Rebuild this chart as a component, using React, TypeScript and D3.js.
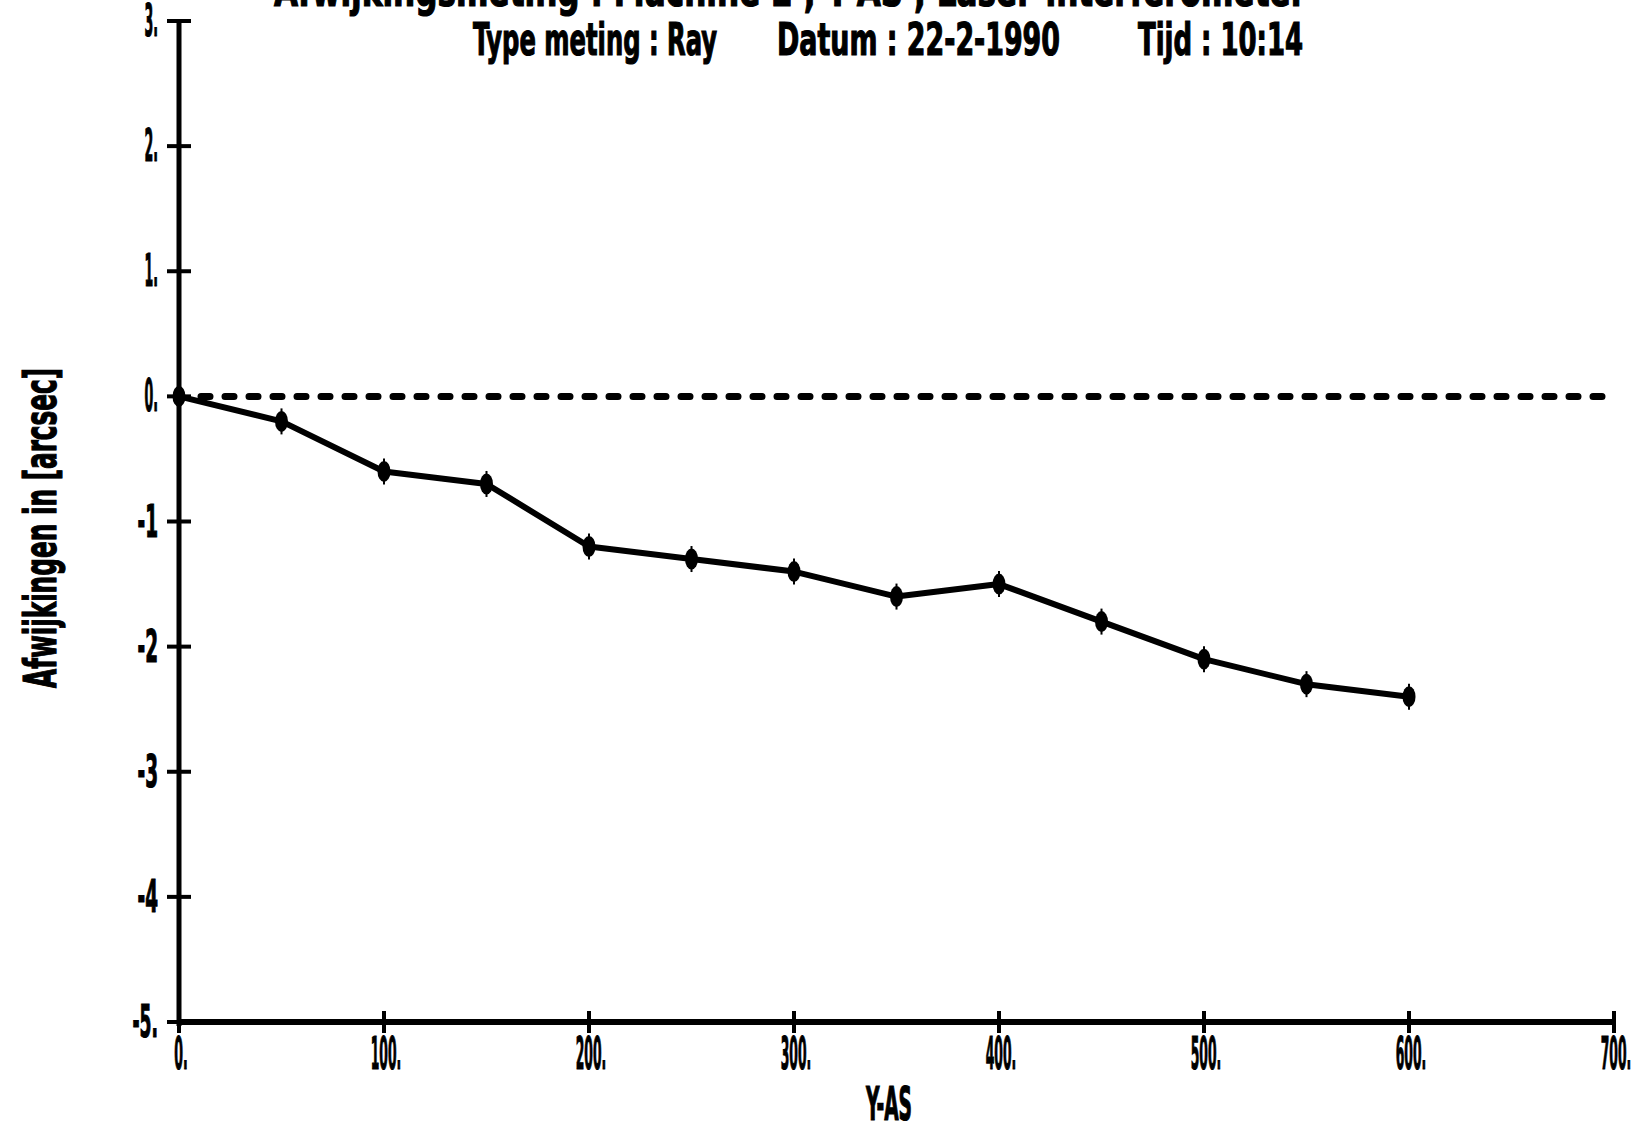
import React from "react";
import * as d3 from "d3";

// Measured angular deviation along the Y axis
const positions = [0, 50, 100, 150, 200, 250, 300, 350, 400, 450, 500, 550, 600];
const deviations = [0, -0.2, -0.6, -0.7, -1.2, -1.3, -1.4, -1.6, -1.5, -1.8, -2.1, -2.3, -2.4];

const xTicks = [0, 100, 200, 300, 400, 500, 600, 700];
const xTickLabels = ["0.", "100.", "200.", "300.", "400.", "500.", "600.", "700."];
const yTicks = [3, 2, 1, 0, -1, -2, -3, -4, -5];
const yTickLabels = ["3.", "2.", "1.", "0.", "-1", "-2", "-3", "-4", "-5."];

const titleTop = "Afwijkingsmeting : Machine 2 , Y-AS , Laser-interferometer";
const titleParts = ["Type meting : Ray", "Datum : 22-2-1990", "Tijd : 10:14"];
const xLabel = "Y-AS";
const yLabel = "Afwijkingen in [arcsec]";

const W = 1652;
const H = 1130;
const FONT = "'Liberation Sans Narrow', 'DejaVu Sans Condensed', 'Liberation Sans', sans-serif";

// width of a tick label in the narrow plotter lettering
const labelWidth = (s: string) =>
  Array.from(s).reduce((w, c) => w + (c === "." ? 5 : c === "-" ? 12 : 8.5), 0);

export default function App() {
  const x = d3.scaleLinear().domain([0, 700]).range([179, 1614]);
  const y = d3.scaleLinear().domain([-5, 3]).range([1022, 21]);
  const pts = positions.map((p, i) => [p, deviations[i]] as [number, number]);
  const line = d3
    .line<[number, number]>()
    .x((d) => x(d[0]))
    .y((d) => y(d[1]));

  return (
    <svg
      width={W}
      height={H}
      viewBox={`0 0 ${W} ${H}`}
      style={{ position: "absolute", left: 0, top: 0, background: "#fff" }}
      fontFamily={FONT}
      fontWeight="bold"
    >
      <rect x={0} y={0} width={W} height={H} fill="#fff" />

      <g fill="#000" stroke="#000" strokeWidth={1.2}>
        {/* titles */}
        <text x={274} y={6} fontSize={46} textLength={1032} lengthAdjust="spacingAndGlyphs">
          {titleTop}
        </text>
        <text x={473} y={55} fontSize={44} textLength={244} lengthAdjust="spacingAndGlyphs">
          {titleParts[0]}
        </text>
        <text x={777} y={55} fontSize={44} textLength={283} lengthAdjust="spacingAndGlyphs">
          {titleParts[1]}
        </text>
        <text x={1138} y={55} fontSize={44} textLength={165} lengthAdjust="spacingAndGlyphs">
          {titleParts[2]}
        </text>

        {/* tick labels */}
        {yTicks.map((t, i) => (
          <text
            key={`yl${t}`}
            x={158}
            y={y(t) + 15}
            textAnchor="end"
            fontSize={44}
            textLength={labelWidth(yTickLabels[i])}
            lengthAdjust="spacingAndGlyphs"
          >
            {yTickLabels[i]}
          </text>
        ))}
        {xTicks.map((t, i) => (
          <text
            key={`xl${t}`}
            x={x(t) + 2}
            y={1069}
            textAnchor="middle"
            fontSize={44}
            textLength={labelWidth(xTickLabels[i])}
            lengthAdjust="spacingAndGlyphs"
          >
            {xTickLabels[i]}
          </text>
        ))}

        {/* axis titles */}
        <text x={889} y={1120} fontSize={46} textAnchor="middle" textLength={46} lengthAdjust="spacingAndGlyphs">
          {xLabel}
        </text>
        <text
          transform={`translate(56,528) rotate(-90)`}
          fontSize={44}
          textAnchor="middle"
          textLength={320}
          lengthAdjust="spacingAndGlyphs"
        >
          {yLabel}
        </text>
      </g>

      {/* zero reference line */}
      <line
        x1={x(0) + 22}
        x2={x(700)}
        y1={y(0)}
        y2={y(0)}
        stroke="#000"
        strokeWidth={7}
        strokeDasharray="9 15"
        strokeLinecap="round"
      />

      {/* y axis */}
      <line x1={x(0)} x2={x(0)} y1={y(3)} y2={y(-5) + 4} stroke="#000" strokeWidth={5} />
      {yTicks.map((t) => (
        <line key={`yt${t}`} x1={x(0) - 12} x2={x(0) + 12} y1={y(t)} y2={y(t)} stroke="#000" strokeWidth={4} />
      ))}

      {/* x axis */}
      <line x1={x(0)} x2={x(700)} y1={y(-5)} y2={y(-5)} stroke="#000" strokeWidth={6} />
      {xTicks.map((t) => (
        <line key={`xt${t}`} x1={x(t)} x2={x(t)} y1={y(-5) - 11} y2={y(-5) + 11} stroke="#000" strokeWidth={4} />
      ))}

      {/* measured series */}
      <path d={line(pts) ?? ""} fill="none" stroke="#000" strokeWidth={6} strokeLinejoin="round" />
      {pts.map((d, i) => (
        <g key={`m${i}`}>
          <ellipse cx={x(d[0])} cy={y(d[1])} rx={6.5} ry={10.5} fill="#000" />
          <line x1={x(d[0])} x2={x(d[0])} y1={y(d[1]) - 13} y2={y(d[1]) + 13} stroke="#000" strokeWidth={2} />
        </g>
      ))}
    </svg>
  );
}
